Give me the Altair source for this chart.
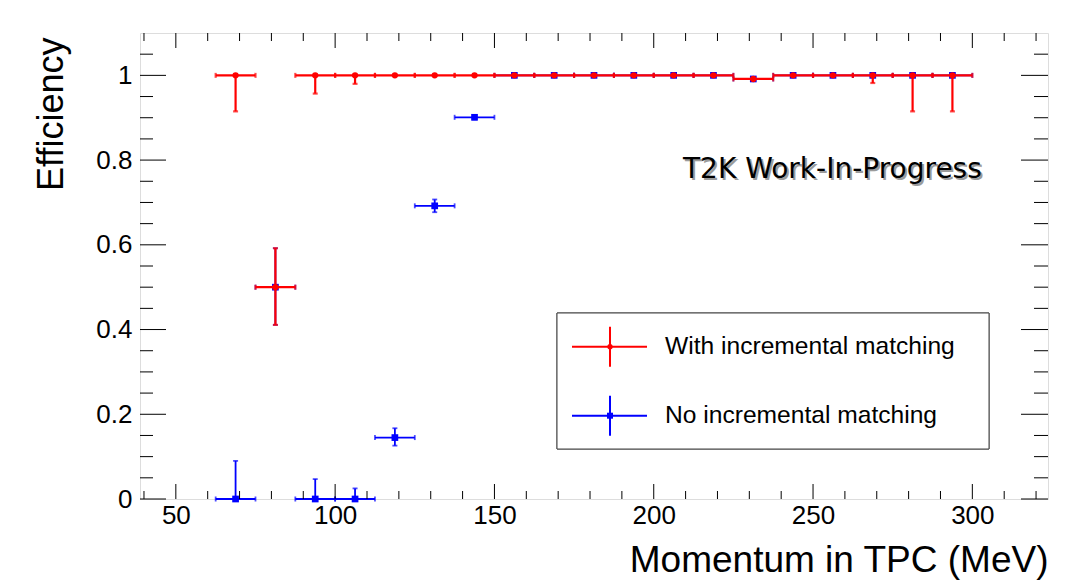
import altair as alt
import pandas as pd

# ---- data ----
bin_centers = [68.75, 81.25, 93.75, 106.25, 118.75, 131.25, 143.75, 156.25, 168.75,
               181.25, 193.75, 206.25, 218.75, 231.25, 243.75, 256.25, 268.75, 281.25, 293.75]
bin_half_width = 6.25

red_eff = [1.0, 0.5, 1.0, 1.0, 1.0, 1.0, 1.0, 1.0, 1.0, 1.0, 1.0, 1.0, 1.0, 0.9915, 1.0, 1.0, 1.0, 1.0, 1.0]
red_err_low = [0.085, 0.089, 0.043, 0.02, 0, 0, 0, 0, 0, 0, 0, 0, 0, 0, 0, 0, 0.018, 0.085, 0.085]
red_err_high = [0, 0.092, 0, 0, 0, 0, 0, 0, 0, 0, 0, 0, 0, 0, 0, 0, 0, 0, 0]

blue_eff = [0.0, 0.5, 0.0, 0.0, 0.145, 0.692, 0.901, 1.0, 1.0, 1.0, 1.0, 1.0, 1.0, 0.9915, 1.0, 1.0, 1.0, 1.0, 1.0]
blue_err_low = [0, 0.089, 0, 0, 0.019, 0.015, 0.005, 0, 0, 0, 0, 0, 0, 0, 0, 0, 0, 0, 0]
blue_err_high = [0.09, 0.092, 0.047, 0.025, 0.022, 0.015, 0.005, 0, 0, 0, 0, 0, 0, 0, 0, 0, 0, 0, 0]

series_names = ["With incremental matching", "No incremental matching"]
series_colors = ["#ff0000", "#0000ff"]

x_major = [50, 100, 150, 200, 250, 300]
x_minor = [40, 60, 70, 80, 90, 110, 120, 130, 140, 160, 170, 180, 190, 210, 220, 230, 240,
           260, 270, 280, 290, 310, 320]
y_major = [0, 0.2, 0.4, 0.6, 0.8, 1.0]
y_minor = [0.05, 0.1, 0.15, 0.25, 0.3, 0.35, 0.45, 0.5, 0.55, 0.65, 0.7, 0.75, 0.85, 0.9, 0.95, 1.05]

x_title = "Momentum in TPC (MeV)"
y_title = "Efficiency"
watermark = "T2K Work-In-Progress"

# ---- layout ----
W, H = 908, 466
FONT = "Liberation Sans"


def frame(eff, lo, hi):
    df = pd.DataFrame({"x": bin_centers, "eff": eff, "elo": lo, "ehi": hi})
    df["xlo"] = df["x"] - bin_half_width
    df["xhi"] = df["x"] + bin_half_width
    df["ylo"] = df["eff"] - df["elo"]
    df["yhi"] = df["eff"] + df["ehi"]
    return df


red = frame(red_eff, red_err_low, red_err_high)
blue = frame(blue_eff, blue_err_low, blue_err_high)

xscale = alt.Scale(domain=[38.75, 323.75], nice=False, zero=False)
yscale = alt.Scale(domain=[0, 1.1], nice=False, zero=False)

xaxis = alt.Axis(values=x_major, ticks=False, domain=False, grid=False, labelFont=FONT,
                 labelFontSize=26, labelColor="black", labelPadding=3, labelFlush=False,
                 title=x_title, titleFont=FONT, titleFontSize=37, titleFontWeight="normal",
                 titleColor="black", titleAlign="right", titleBaseline="alphabetic",
                 titleX=W, titleY=72, titleAnchor="end")
yaxis = alt.Axis(values=y_major, ticks=False, domain=False, grid=False, labelFont=FONT,
                 labelFontSize=26, labelColor="black", labelPadding=8, labelFlush=False,
                 labelExpr="format(datum.value, '~g')",
                 title=y_title, titleFont=FONT, titleFontSize=36, titleFontWeight="normal",
                 titleColor="black", titleAngle=270, titleAlign="right",
                 titleBaseline="alphabetic", titleX=-78, titleY=4, titleAnchor="end")

X = lambda f: alt.X(f, type="quantitative", scale=xscale, axis=xaxis)
Y = lambda f: alt.Y(f, type="quantitative", scale=yscale, axis=yaxis)


def series_layers(df, color, shape, size, sw):
    base = alt.Chart(df)
    hbar = base.mark_rule(color=color, strokeWidth=sw).encode(x=X("xlo"), x2="xhi", y=Y("eff"))
    vbar = base.transform_filter("datum.elo > 0 || datum.ehi > 0").mark_rule(
        color=color, strokeWidth=sw).encode(x=X("x"), y=Y("ylo"), y2="yhi")
    hcap_l = base.mark_tick(color=color, orient="vertical", size=5, thickness=sw).encode(
        x=X("xlo"), y=Y("eff"))
    hcap_r = base.mark_tick(color=color, orient="vertical", size=5, thickness=sw).encode(
        x=X("xhi"), y=Y("eff"))
    vcap_lo = base.transform_filter("datum.elo > 0").mark_tick(
        color=color, orient="horizontal", size=5, thickness=sw).encode(x=X("x"), y=Y("ylo"))
    vcap_hi = base.transform_filter("datum.ehi > 0").mark_tick(
        color=color, orient="horizontal", size=5, thickness=sw).encode(x=X("x"), y=Y("yhi"))
    pts = base.mark_point(shape=shape, filled=True, color=color, size=size, opacity=1).encode(
        x=X("x"), y=Y("eff"))
    return [hbar, vbar, hcap_l, hcap_r, vcap_lo, vcap_hi, pts]


blue_layers = series_layers(blue, series_colors[1], "square", 45, 1.8)
red_layers = series_layers(red, series_colors[0], "circle", 40, 2.2)

# ---- inner ticks (ROOT style, all four sides) ----
xmaj = pd.DataFrame({"v": x_major})
xmin = pd.DataFrame({"v": x_minor})
ymaj = pd.DataFrame({"v": y_major})
ymin = pd.DataFrame({"v": y_minor})

tick_layers = [
    alt.Chart(xmaj).mark_rule(color="black", strokeWidth=1).encode(x=X("v"), y=alt.value(H), y2=alt.value(H - 15)),
    alt.Chart(xmin).mark_rule(color="black", strokeWidth=1).encode(x=X("v"), y=alt.value(H), y2=alt.value(H - 8)),
    alt.Chart(xmaj).mark_rule(color="black", strokeWidth=1).encode(x=X("v"), y=alt.value(0), y2=alt.value(15)),
    alt.Chart(xmin).mark_rule(color="black", strokeWidth=1).encode(x=X("v"), y=alt.value(0), y2=alt.value(8)),
    alt.Chart(ymaj).mark_rule(color="black", strokeWidth=1).encode(y=Y("v"), x=alt.value(0), x2=alt.value(26)),
    alt.Chart(ymin).mark_rule(color="black", strokeWidth=1).encode(y=Y("v"), x=alt.value(0), x2=alt.value(13)),
    alt.Chart(ymaj).mark_rule(color="black", strokeWidth=1).encode(y=Y("v"), x=alt.value(W), x2=alt.value(W - 27)),
    alt.Chart(ymin).mark_rule(color="black", strokeWidth=1).encode(y=Y("v"), x=alt.value(W), x2=alt.value(W - 14)),
]

# ---- watermark text with shadow ----
wm = pd.DataFrame({"t": [watermark]})
wm_shadow = alt.Chart(wm).mark_text(font="DejaVu Sans", fontSize=28, align="left", baseline="alphabetic",
                                    color="#8a8a8a", opacity=0.85, dx=2, dy=2).encode(
    text="t:N", x=alt.value(543), y=alt.value(145))
wm_text = alt.Chart(wm).mark_text(font="DejaVu Sans", fontSize=28, align="left", baseline="alphabetic",
                                  color="black").encode(text="t:N", x=alt.value(543), y=alt.value(145))

# ---- legend (ROOT style box) ----
leg_names = pd.DataFrame({"name": series_names, "color": series_colors})
red_name = pd.DataFrame({"name": [series_names[0]]})
blue_name = pd.DataFrame({"name": [series_names[1]]})
legend_layers = [
    alt.Chart(leg_names).mark_rect(fill="white", stroke="#444444", strokeWidth=1).encode(
        x=alt.value(417), x2=alt.value(849), y=alt.value(280), y2=alt.value(416)),
]
for df_name, color, shape, size, yc in [(red_name, series_colors[0], "circle", 28, 313.7),
                                         (blue_name, series_colors[1], "square", 36, 382.7)]:
    c = alt.Chart(df_name)
    legend_layers += [
        c.mark_rule(color=color, strokeWidth=2).encode(x=alt.value(432), x2=alt.value(507), y=alt.value(yc)),
        c.mark_rule(color=color, strokeWidth=2).encode(x=alt.value(470), y=alt.value(yc - 20), y2=alt.value(yc + 20)),
        c.mark_point(shape=shape, filled=True, color=color, size=size, opacity=1).encode(
            x=alt.value(470), y=alt.value(yc)),
        c.mark_text(font=FONT, fontSize=24.6, align="left", baseline="alphabetic", color="black").encode(
            text="name:N", x=alt.value(525), y=alt.value(yc + 7.5)),
    ]

chart = alt.layer(*blue_layers, *red_layers, *tick_layers, wm_shadow, wm_text, *legend_layers).properties(
    width=W, height=H,
    padding={"left": 132, "top": 25, "right": 10, "bottom": 85},
    autosize="none",
).configure_view(stroke="black", strokeWidth=1.2).configure(background="white")

chart.save("out.html", embed_options={"renderer": "svg", "actions": False})
